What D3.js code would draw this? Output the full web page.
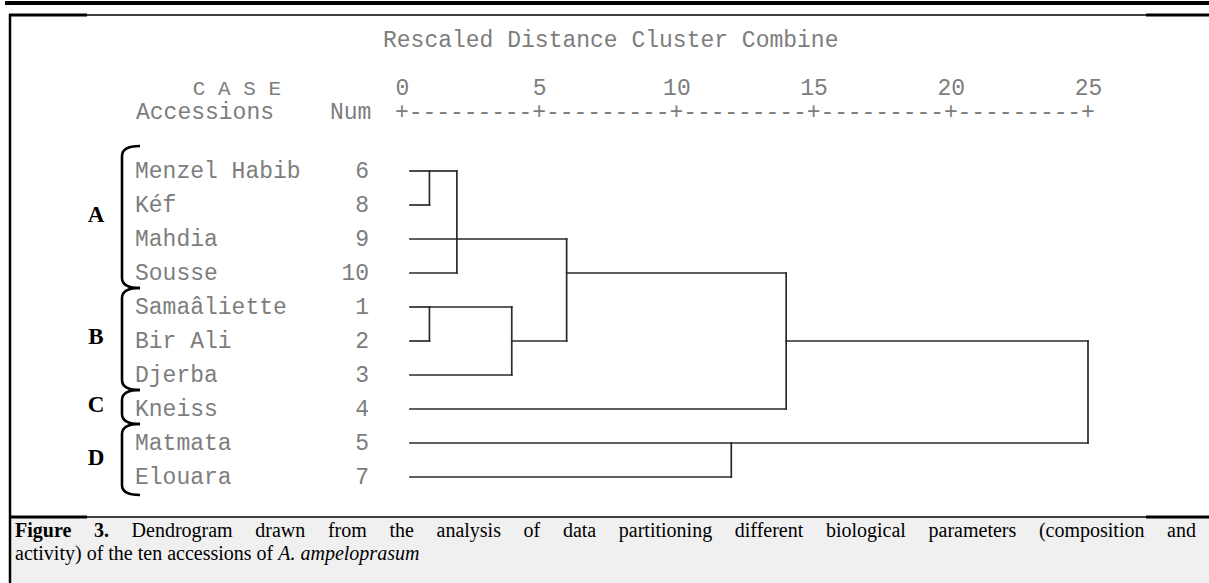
<!DOCTYPE html>
<html>
<head>
<meta charset="utf-8">
<script src="https://cdn.jsdelivr.net/npm/d3@7"></script>
<style>
  html, body { margin: 0; padding: 0; background: #fff; }
  svg { display: block; }
</style>
</head>
<body>
<svg id="chart" width="1209" height="583"></svg>
<script>
SVG_WIDTH = 1209;
SVG_HEIGHT = 583;

// cases, top to bottom as they appear in the dendrogram
var accessions = ["Menzel Habib", "Kéf", "Mahdia", "Sousse", "Samaâliette", "Bir Ali", "Djerba", "Kneiss", "Matmata", "Elouara"];
var caseNums = [6, 8, 9, 10, 1, 2, 3, 4, 5, 7];

// agglomeration: leaves are 0..9, merge i creates node 10+i
var mergeChildren = [[0, 1], [10, 3, 2], [4, 5], [12, 6], [11, 13], [14, 7], [8, 9], [15, 16]];
var mergeDistances = [1, 2, 1, 4, 6, 14, 12, 25];
var mergeRows = [0, 2, 4, 5, 3, 5, 8, 5];   // row the joined cluster continues on

var distanceTicks = [0, 5, 10, 15, 20, 25];

var groupNames = ["A", "B", "C", "D"];
var groupFirstRow = [0, 4, 7, 8];
var groupLastRow = [3, 6, 7, 9];

var captionBold = "Figure 3.";
var captionLine1 = "Dendrogram drawn from the analysis of data partitioning different biological parameters (composition and";
var captionLine2 = "activity) of the ten accessions of ";
var captionItalic = "A. ampeloprasum";

var MONO = "'Liberation Mono', 'DejaVu Sans Mono', monospace";
var SERIF = "'Liberation Serif', 'DejaVu Serif', serif";
var TEXT_GREY = "#7d7d7d";

var svg = d3.select("#chart");

var x = d3.scaleLinear().domain([0, 25]).range([402, 1088]);
var y = d3.scaleLinear().domain([0, 9]).range([171, 477]);

// ---- frame
var frame = svg.append("g");
frame.append("rect").attr("x", 5).attr("y", 1).attr("width", SVG_WIDTH - 5).attr("height", 4).attr("fill", "#000");
frame.append("rect").attr("x", 11).attr("y", 518).attr("width", SVG_WIDTH - 11).attr("height", SVG_HEIGHT - 518).attr("fill", "#f0f0f0");
[15, 517].forEach(function(ly){
	frame.append("line").attr("x1", 9).attr("x2", SVG_WIDTH).attr("y1", ly).attr("y2", ly)
		.attr("stroke", "#000").attr("stroke-width", 1.5);
	frame.append("line").attr("x1", 9).attr("x2", 87).attr("y1", ly).attr("y2", ly)
		.attr("stroke", "#000").attr("stroke-width", 3);
	frame.append("line").attr("x1", 1146).attr("x2", SVG_WIDTH).attr("y1", ly).attr("y2", ly)
		.attr("stroke", "#000").attr("stroke-width", 3);
});
frame.append("line").attr("x1", 10).attr("x2", 10).attr("y1", 14).attr("y2", SVG_HEIGHT)
	.attr("stroke", "#000").attr("stroke-width", 2.5);

// ---- headers
var head = svg.append("g").attr("font-family", MONO).attr("font-size", 23).attr("fill", TEXT_GREY);
head.append("text").attr("x", 383).attr("y", 47).text("Rescaled Distance Cluster Combine");
head.append("text").attr("x", 281).attr("y", 95).attr("text-anchor", "end")
	.attr("font-size", 21).attr("xml:space", "preserve").text("C A S E");
head.append("text").attr("x", 136).attr("y", 119).text("Accessions");
head.append("text").attr("x", 330).attr("y", 119).text("Num");

// tick numbers
var axis = d3.axisTop(x).tickValues(distanceTicks).tickSize(0).tickPadding(0);
var axisG = svg.append("g").attr("transform", "translate(0,95)").call(axis);
axisG.select(".domain").remove();
axisG.selectAll("text")
	.attr("font-family", MONO).attr("font-size", 23).attr("fill", TEXT_GREY);

// ruler  +---------+---------+ ...
var step = (x(5) - x(0)) / 10;
var ruler = svg.append("g").attr("font-family", MONO).attr("font-size", 23).attr("fill", TEXT_GREY)
	.attr("text-anchor", "middle");
distanceTicks.forEach(function(t, i){
	ruler.append("text").attr("x", x(t)).attr("y", 119).text("+");
	if (i < distanceTicks.length - 1) {
		d3.range(1, 10).forEach(function(k){
			ruler.append("text").attr("x", x(t) + k * step).attr("y", 119).text("-");
		});
	}
});

// ---- case labels
var rows = svg.append("g").attr("font-family", MONO).attr("font-size", 23).attr("fill", TEXT_GREY);
rows.selectAll("text.name").data(accessions).enter().append("text")
	.attr("class", "name")
	.attr("x", 135)
	.attr("y", function(d, i){ return y(i) + 7; })
	.text(function(d){ return d; });
rows.selectAll("text.num").data(caseNums).enter().append("text")
	.attr("class", "num")
	.attr("x", 369)
	.attr("text-anchor", "end")
	.attr("y", function(d, i){ return y(i) + 7; })
	.text(function(d){ return d; });

// ---- dendrogram
var leafStart = x(0) + 8;
var nodeRow = function(id){ return id < accessions.length ? id : mergeRows[id - accessions.length]; };
var nodeStart = function(id){ return id < accessions.length ? leafStart : x(mergeDistances[id - accessions.length]); };

var segs = [];
mergeChildren.forEach(function(children, i){
	var xm = x(mergeDistances[i]);
	var rs = children.map(nodeRow);
	segs.push({x1: xm, x2: xm, y1: y(d3.min(rs)), y2: y(d3.max(rs))});
	children.forEach(function(c){
		segs.push({x1: nodeStart(c), x2: xm, y1: y(nodeRow(c)), y2: y(nodeRow(c))});
	});
});
svg.append("g").selectAll("line").data(segs).enter().append("line")
	.attr("x1", function(d){ return d.x1; })
	.attr("x2", function(d){ return d.x2; })
	.attr("y1", function(d){ return d.y1; })
	.attr("y2", function(d){ return d.y2; })
	.attr("stroke", "#2a2a2a")
	.attr("stroke-width", 1.7)
	.attr("stroke-linecap", "square");

// ---- group braces
var half = (y(1) - y(0)) / 2;
var braces = svg.append("g");
groupNames.forEach(function(g, i){
	var top = i === 0 ? y(groupFirstRow[i]) - 25 : y(groupFirstRow[i]) - half - 2;
	var bot = i === groupNames.length - 1 ? y(groupLastRow[i]) + 18 : y(groupLastRow[i]) + half - 2;
	braces.append("path")
		.attr("d", "M140," + top + " Q122," + top + " 122," + (top + 10) +
			" L122," + (bot - 10) + " Q122," + bot + " 140," + bot)
		.attr("fill", "none").attr("stroke", "#000").attr("stroke-width", 2.6);
	braces.append("text")
		.attr("x", 96).attr("y", (top + bot) / 2 + 5)
		.attr("text-anchor", "middle")
		.attr("font-family", SERIF).attr("font-weight", "bold").attr("font-size", 23)
		.attr("fill", "#000")
		.text(g);
});

// ---- caption, first line justified word by word
var cap = svg.append("g").attr("font-family", SERIF).attr("font-size", 20).attr("fill", "#000");
var words = captionBold.split(" ").map(function(w){ return {w: w, bold: true}; })
	.concat(captionLine1.split(" ").map(function(w){ return {w: w, bold: false}; }));
var wordText = cap.selectAll("text.w").data(words).enter().append("text")
	.attr("class", "w")
	.attr("y", 537)
	.attr("font-weight", function(d){ return d.bold ? "bold" : "normal"; })
	.text(function(d){ return d.w; });
var widths = [];
wordText.each(function(){ widths.push(this.getComputedTextLength()); });
var lineLeft = 15, lineRight = 1196;
var gap = (lineRight - lineLeft - d3.sum(widths)) / (words.length - 1);
var cursor = lineLeft;
wordText.attr("x", function(d, i){ var p = cursor; cursor += widths[i] + gap; return p; });

var line2 = cap.append("text").attr("x", lineLeft).attr("y", 560);
line2.append("tspan").text(captionLine2);
line2.append("tspan").attr("font-style", "italic").text(captionItalic);
</script>
</body>
</html>
